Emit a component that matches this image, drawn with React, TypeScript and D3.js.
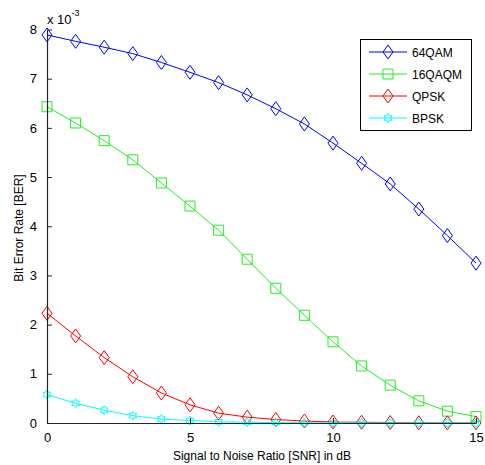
import React, { useEffect, useRef } from "react";
import * as d3 from "d3";

// SNR in dB
const snr = [0, 1, 2, 3, 4, 5, 6, 7, 8, 9, 10, 11, 12, 13, 14, 15];
// BER values, in units of 1e-3
const qam64 = [7.89, 7.76, 7.64, 7.51, 7.33, 7.13, 6.92, 6.67, 6.39, 6.08, 5.69, 5.28, 4.86, 4.35, 3.81, 3.25];
const qam16 = [6.43, 6.1, 5.74, 5.35, 4.88, 4.41, 3.92, 3.33, 2.74, 2.19, 1.65, 1.16, 0.77, 0.45, 0.24, 0.13];
const qpsk = [2.23, 1.77, 1.33, 0.94, 0.61, 0.37, 0.2, 0.12, 0.07, 0.04, 0.02, 0.015, 0.01, 0.005, 0.003, 0.002];
const bpsk = [0.58, 0.4, 0.26, 0.15, 0.08, 0.05, 0.025, 0.015, 0.008, 0.005, 0.003, 0.002, 0.001, 0.001, 0, 0];

const seriesNames = ["64QAM", "16QAQM", "QPSK", "BPSK"];
const xTicks = [0, 5, 10, 15];
const yTicks = [0, 1, 2, 3, 4, 5, 6, 7, 8];

function App() {
  const ref = useRef(null);

  useEffect(() => {
    const svg = d3.select(ref.current);
    svg.selectAll("*").remove();

    const font = "Liberation Sans, Arial, sans-serif";
    const left = 47;
    const right = 476;
    const top = 29.5;
    const bottom = 423;

    const x = d3.scaleLinear().domain([0, 15]).range([left, right]);
    const y = d3.scaleLinear().domain([0, 8]).range([bottom, top]);

    const series = [
      { name: seriesNames[0], values: qam64, color: "#0000ff", marker: "diamond" },
      { name: seriesNames[1], values: qam16, color: "#22ee22", marker: "square" },
      { name: seriesNames[2], values: qpsk, color: "#ff0000", marker: "diamond" },
      { name: seriesNames[3], values: bpsk, color: "#00ffff", marker: "hexagram" }
    ];

    const markerPath = (type) => {
      if (type === "diamond") return "M0,-7L5,0L0,7L-5,0Z";
      if (type === "square") return "M-5,-5L5,-5L5,5L-5,5Z";
      // six-pointed star
      let p = "";
      for (let i = 0; i < 12; i++) {
        const r = i % 2 === 0 ? 4.5 : 2.6;
        const a = (Math.PI / 6) * i - Math.PI / 2;
        p += (i === 0 ? "M" : "L") + (r * Math.cos(a)).toFixed(2) + "," + (r * Math.sin(a)).toFixed(2);
      }
      return p + "Z";
    };

    const line = d3
      .line()
      .x((d, i) => x(snr[i]))
      .y(d => y(d));

    const g = svg.append("g");

    series.forEach(s => {
      g.append("path")
        .attr("d", line(s.values))
        .attr("fill", "none")
        .attr("stroke", s.color)
        .attr("stroke-width", 1);
      g.selectAll(null)
        .data(s.values)
        .join("path")
        .attr("transform", (d, i) => "translate(" + x(snr[i]) + "," + y(d) + ")")
        .attr("d", markerPath(s.marker))
        .attr("fill", "none")
        .attr("stroke", s.color)
        .attr("stroke-width", 1);
    });

    // axes (box off, ticks inward)
    const axisColor = "#262626";
    const xAxis = svg
      .append("g")
      .attr("transform", "translate(0," + bottom + ")")
      .call(d3.axisBottom(x).tickValues(xTicks).tickSize(-5).tickPadding(10).tickSizeOuter(0));
    const yAxis = svg
      .append("g")
      .attr("transform", "translate(" + left + ",0)")
      .call(d3.axisLeft(y).tickValues(yTicks).tickSize(-5).tickPadding(10).tickSizeOuter(0));

    [xAxis, yAxis].forEach(a => {
      a.select(".domain").attr("stroke", axisColor).attr("stroke-width", 1.2);
      a.selectAll(".tick line").attr("stroke", axisColor);
      a.selectAll(".tick text")
        .attr("fill", "#000")
        .attr("font-family", font)
        .attr("font-size", 13);
    });

    // exponent label
    const ex = svg
      .append("text")
      .attr("x", 47)
      .attr("y", 24)
      .attr("font-family", font)
      .attr("font-size", 13)
      .attr("fill", "#000");
    ex.append("tspan").text("x 10");
    ex.append("tspan").attr("dy", -8).attr("font-size", 9).text("-3");

    svg
      .append("text")
      .attr("x", 262)
      .attr("y", 460)
      .attr("text-anchor", "middle")
      .attr("font-family", font)
      .attr("font-size", 12)
      .text("Signal to Noise Ratio [SNR] in dB");

    svg
      .append("text")
      .attr("transform", "translate(23,228) rotate(-90)")
      .attr("text-anchor", "middle")
      .attr("font-family", font)
      .attr("font-size", 12)
      .text("Bit Error Rate [BER]");

    // legend
    const lg = svg.append("g");
    lg.append("rect")
      .attr("x", 360.5)
      .attr("y", 39.5)
      .attr("width", 111)
      .attr("height", 91)
      .attr("fill", "#fff")
      .attr("stroke", "#000")
      .attr("stroke-width", 1);
    const rows = [52, 74, 96, 118];
    series.forEach((s, i) => {
      lg.append("line")
        .attr("x1", 369)
        .attr("x2", 407)
        .attr("y1", rows[i])
        .attr("y2", rows[i])
        .attr("stroke", s.color);
      lg.append("path")
        .attr("transform", "translate(388," + rows[i] + ")")
        .attr("d", markerPath(s.marker))
        .attr("fill", "none")
        .attr("stroke", s.color);
      lg.append("text")
        .attr("x", 412)
        .attr("y", rows[i] + 4.5)
        .attr("font-family", font)
        .attr("font-size", 12)
        .text(s.name);
    });
  });

  return (
    <svg
      ref={ref}
      width={485}
      height={465}
      style={{ position: "absolute", left: 0, top: 0, background: "#fff" }}
    />
  );
}

export default App;
